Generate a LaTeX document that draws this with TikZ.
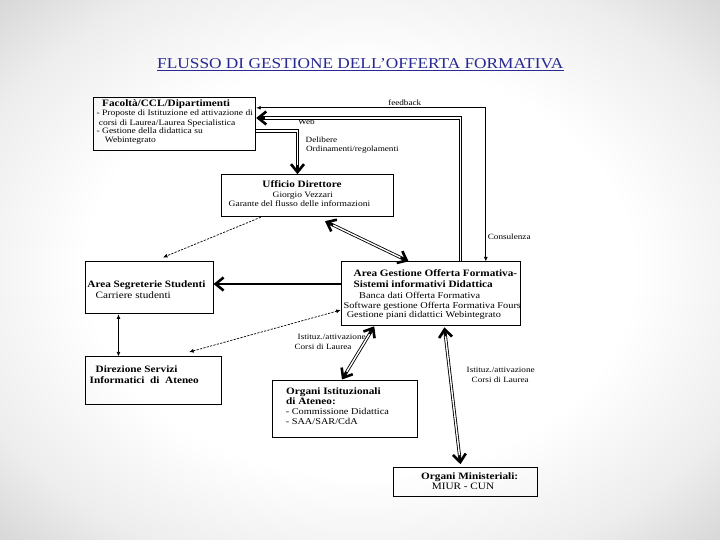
\documentclass[tikz,border=0pt]{standalone}
\usepackage{fontspec}
\setmainfont{Liberation Serif}[FakeStretch=1.15]
\usetikzlibrary{arrows.meta,calc}
\definecolor{titleblue}{RGB}{40,40,145}
\pgfdeclareradialshading{bgsh}{\pgfpoint{0bp}{0bp}}{color(0bp)=(white); color(19bp)=(white); color(29bp)=(black!7); color(35bp)=(black!15); color(42bp)=(black!19); color(50bp)=(black!21)}
\tikzset{
  fb/.style={font=\fontsize{9.8}{10}\selectfont\bfseries},
  fr/.style={font=\fontsize{8.3}{9}\selectfont},
  fm/.style={font=\fontsize{9.0}{10}\selectfont},
  fl/.style={font=\fontsize{9.8}{10}\selectfont},
  lab/.style={font=\fontsize{8.0}{9}\selectfont},
  box/.style={draw, line width=0.9bp, anchor=north west, inner sep=0},
  tipS/.tip={Latex[length=4.5bp,width=4bp]},
  tipV/.tip={Straight Barb[length=8bp,width=13bp,line width=2.6bp]},
  thinc/.style={line width=0.8bp},
  dsh/.style={line width=0.7bp, dash pattern=on 2.2bp off 1.3bp},
  dbl/.style={double, double distance=1.4bp, line width=0.85bp},
  headV/.style={line width=2bp, -tipV},
  thk/.style={line width=2.2bp},
}
\begin{document}
\begin{tikzpicture}[x=1bp, y=-1bp, inner sep=0]
\useasboundingbox (0,0) rectangle (720,540);
\shade[shading=bgsh] (0,0) rectangle (720,540);

% title
\node[font=\fontsize{15.1}{16}\selectfont, text=titleblue, anchor=base west] (title) at (157,68.5) {FLUSSO DI GESTIONE DELL’OFFERTA FORMATIVA};
\draw[titleblue, line width=1.2bp] ($(title.base west)+(0,2.3)$) -- ($(title.base east)+(0,2.3)$);

% boxes
\node[box, minimum width=162.6bp, minimum height=53bp] (fac) at (92.7,97.5) {};
\node[box, minimum width=171.8bp, minimum height=42.1bp] (uff) at (220.8,174.2) {};
\node[box, minimum width=128.1bp, minimum height=52bp] (seg) at (84.5,261.4) {};
\node[box, minimum width=136.3bp, minimum height=47.2bp] (dir) at (84.5,356.4) {};
\node[box, minimum width=179.5bp, minimum height=64bp] (gest) at (340.7,261.4) {};
\node[box, minimum width=145.1bp, minimum height=57.8bp] (ist) at (272.3,379.5) {};
\node[box, minimum width=144.6bp, minimum height=29.3bp] (min) at (392.6,466.6) {};

% texts
\node[fb, anchor=base west] (facT1) at (102,106.2) {Facoltà/CCL/Dipartimenti};
\node[fr, anchor=base west] (facT2) at (96.4,115.5) {- Proposte di Istituzione ed attivazione di};
\node[fr, anchor=base west] (facT3) at (98.7,125.1) {corsi di Laurea/Laurea Specialistica};
\node[fr, anchor=base west] (facT4) at (96.4,133.5) {- Gestione della didattica su};
\node[fr, anchor=base west] (facT5) at (104.7,143) {Webintegrato};

\node[fb, anchor=base] (uffT1) at (302,187.9) {Ufficio Direttore};
\node[fr, anchor=base] (uffT2) at (302.8,197.1) {Giorgio Vezzari};
\node[fr, anchor=base] (uffT3) at (299.5,206.4) {Garante del flusso delle informazioni};

\node[fb, anchor=base west] (segT1) at (87.2,287.3) {Area Segreterie Studenti};
\node[fl, anchor=base west] (segT2) at (95.5,298) {Carriere studenti};

\node[fb, anchor=base west] (dirT1) at (95.5,372.4) {Direzione Servizi};
\node[fb, anchor=base west] (dirT2) at (89.5,383.1) {Informatici\ \ di\ \ Ateneo};

\node[fb, anchor=base west] (gestT1) at (353.5,276.7) {Area Gestione Offerta Formativa-};
\node[fb, anchor=base west] (gestT2) at (353.5,287.3) {Sistemi informativi Didattica};
\node[fm, anchor=base west] (gestT3) at (359,298.2) {Banca dati Offerta Formativa};
\node[fm, anchor=base west] (gestT4) at (343.4,308.1) {Software gestione Offerta Formativa Fours};
\node[fm, anchor=base west] (gestT5) at (346.6,317.7) {Gestione piani didattici Webintegrato};

\node[fb, anchor=base west] (istT1) at (286,394.1) {Organi Istituzionali};
\node[fb, anchor=base west] (istT2) at (286,404.4) {di Ateneo:};
\node[fm, anchor=base west] (istT3) at (285.6,414.9) {- Commissione Didattica};
\node[fm, anchor=base west] (istT4) at (285.6,424.9) {- SAA/SAR/CdA};

\node[fb, anchor=base west] (minT1) at (421,479.1) {Organi Ministeriali:};
\node[fl, anchor=base west] (minT2) at (431.6,489.5) {MIUR - CUN};

% connector labels
\node[lab, anchor=base west] (lfeed) at (388,105.7) {feedback};
\node[lab, anchor=base west] (lweb) at (298,124.6) {Web};
\node[lab, anchor=base west] (ldel1) at (305.5,142.6) {Delibere};
\node[lab, anchor=base west] (ldel2) at (305.8,151.5) {Ordinamenti/regolamenti};
\node[lab, anchor=base west] (lcons) at (487.6,240) {Consulenza};
\node[lab, anchor=base west] (list1) at (297.5,339.9) {Istituz./attivazione};
\node[lab, anchor=base west] (list2) at (294.3,349.2) {Corsi di Laurea};
\node[lab, anchor=base west] (lmin1) at (466.5,372.6) {Istituz./attivazione};
\node[lab, anchor=base west] (lmin2) at (471.5,382.9) {Corsi di Laurea};

% connector anchor points
\coordinate (fbc) at (485.8,107.8);
\coordinate (webc) at (460.5,118);
\coordinate (delc) at (297.5,131);
\coordinate (gsc) at (0,284);
\coordinate (sdc) at (118.5,0);

\coordinate (webA) at (gest.north -| webc);
\coordinate (webB) at (fac.east |- webc);
\coordinate (delA) at (fac.east |- delc);
\coordinate (delB) at (uff.north -| delc);
\coordinate (ugA) at ($(uff.south west)+(104.2,4)$);
\coordinate (ugB) at ($(gest.north west)+(67.9,0)$);
\coordinate (giA) at ($(gest.south west)+(33.5,0)$);
\coordinate (giB) at ($(ist.north west)+(69.7,0)$);
\coordinate (gmA) at ($(gest.south west)+(103.7,1)$);
\coordinate (gmB) at ($(min.north west)+(67.9,-2.4)$);

% connectors
\draw[thinc, tipS-tipS] (gest.north -| fbc) |- (fac.east |- fbc);

\draw[dbl, shorten >=2bp] (webA) |- (webB);
\draw[headV] ($(webB)+(9,0)$) -- (webB);

\draw[dbl, shorten >=2bp] (delA) -| (delB);
\draw[headV] ($(delB)+(0,-9)$) -- (delB);

\draw[dsh, -tipS] ($(uff.south west)+(40,0)$) -- ($(seg.north west)+(78.5,-4)$);

\draw[dbl, shorten >=2bp, shorten <=2bp] (ugA) -- (ugB);
\draw[headV] ($(ugA)!9bp!(ugB)$) -- (ugA);
\draw[headV] ($(ugB)!9bp!(ugA)$) -- (ugB);

\draw[thk, -tipV] (gest.west |- gsc) -- (seg.east |- gsc);
\draw[thinc, tipS-tipS] (seg.south -| sdc) -- (dir.north -| sdc);
\draw[dsh, tipS-tipS] ($(dir.north west)+(104.7,-4.4)$) -- ($(gest.south west)+(0,-16.2)$);

\draw[dbl, shorten >=2bp, shorten <=2bp] (giA) -- (giB);
\draw[headV] ($(giA)!9bp!(giB)$) -- (giA);
\draw[headV] ($(giB)!9bp!(giA)$) -- (giB);

\draw[dbl, shorten >=2bp, shorten <=2bp] (gmA) -- (gmB);
\draw[headV] ($(gmA)!9bp!(gmB)$) -- (gmA);
\draw[headV] ($(gmB)!9bp!(gmA)$) -- (gmB);
\end{tikzpicture}
\end{document}
